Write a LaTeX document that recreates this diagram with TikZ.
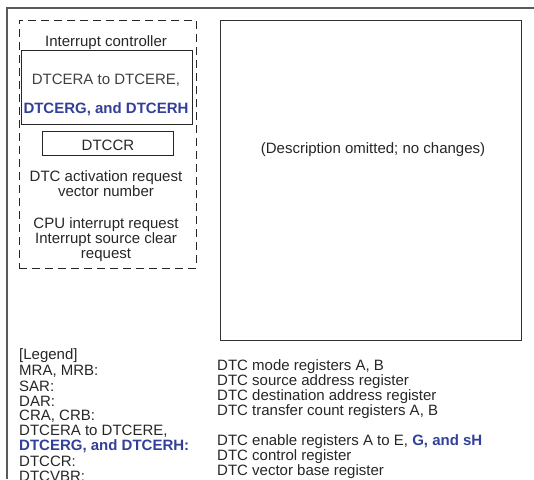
\documentclass[tikz,border=0pt]{standalone}
\usepackage{fontspec}
\setmainfont{Liberation Sans}
\usetikzlibrary{positioning}
\definecolor{regblue}{RGB}{51,64,153}
\definecolor{framegray}{RGB}{90,90,90}

\begin{document}
\begin{tikzpicture}[x=1pt,y=-1pt,
		txt/.style={font=\fontsize{15}{15}\selectfont, inner sep=0pt, text=black!85, yshift=-2pt},
		bluetxt/.style={txt, text=regblue, font=\fontsize{15}{15}\selectfont\bfseries},
		regbox/.style={draw=black!85, line width=0.9pt, anchor=north west},
		legendtxt/.style={txt, anchor=west}
	]
	\useasboundingbox (0,0) rectangle (534,479);

	% outer frame
	\draw[framegray, line width=1.1pt] (7,479) -- (7,8) -- (534,8);

	% interrupt controller
	\node[draw=black!85, line width=0.9pt, dash pattern=on 8pt off 5pt, anchor=north west,
		minimum width=177pt, minimum height=248pt] (intc) at (19,20) {};
	\node[txt] (intctitle) at (106,41) {Interrupt controller};
	\node[regbox, minimum width=171pt, minimum height=74pt] (dtcer) at (21,50) {};
	\node[txt, text=black!75] (dtcerae) at (106,78) {DTCERA to DTCERE,};
	\node[bluetxt] (dtcergh) at (106,107) {DTCERG, and DTCERH};
	\node[regbox, minimum width=131pt, minimum height=24pt] (dtccr) at (42,131) {};
	\node[txt] at (dtccr.center) {DTCCR};
	\node[txt, align=center] (actreq) at (106,182) {DTC activation request\\vector number};
	\node[txt, align=center] (cpureq) at (106,238) {CPU interrupt request\\Interrupt source clear\\request};

	% omitted part
	\node[regbox, draw=black!80, minimum width=301pt, minimum height=320pt] (omit) at (220,20) {};
	\node[txt] (omittxt) at (373,148) {(Description omitted; no changes)};

	% legend
	\foreach \lbl [count=\i from 0] in {{[Legend]}, {MRA, MRB:}, {SAR:}, {DAR:}, {CRA, CRB:},
			{DTCERA to DTCERE,}, {\textcolor{regblue}{\bfseries DTCERG, and DTCERH:}}, {DTCCR:}, {DTCVBR:}} {
		\node[legendtxt] (leg-\i) at (19,354+15*\i) {\lbl};
	};
	\foreach \y/\lbl [count=\i] in {365/{DTC mode registers A, B}, 380/{DTC source address register},
			395/{DTC destination address register}, 410/{DTC transfer count registers A, B},
			440/{DTC enable registers A to E, \textcolor{regblue}{\bfseries G, and sH}},
			455/{DTC control register}, 470/{DTC vector base register}} {
		\node[legendtxt] (def-\i) at (217,\y) {\lbl};
	};
\end{tikzpicture}
\end{document}
